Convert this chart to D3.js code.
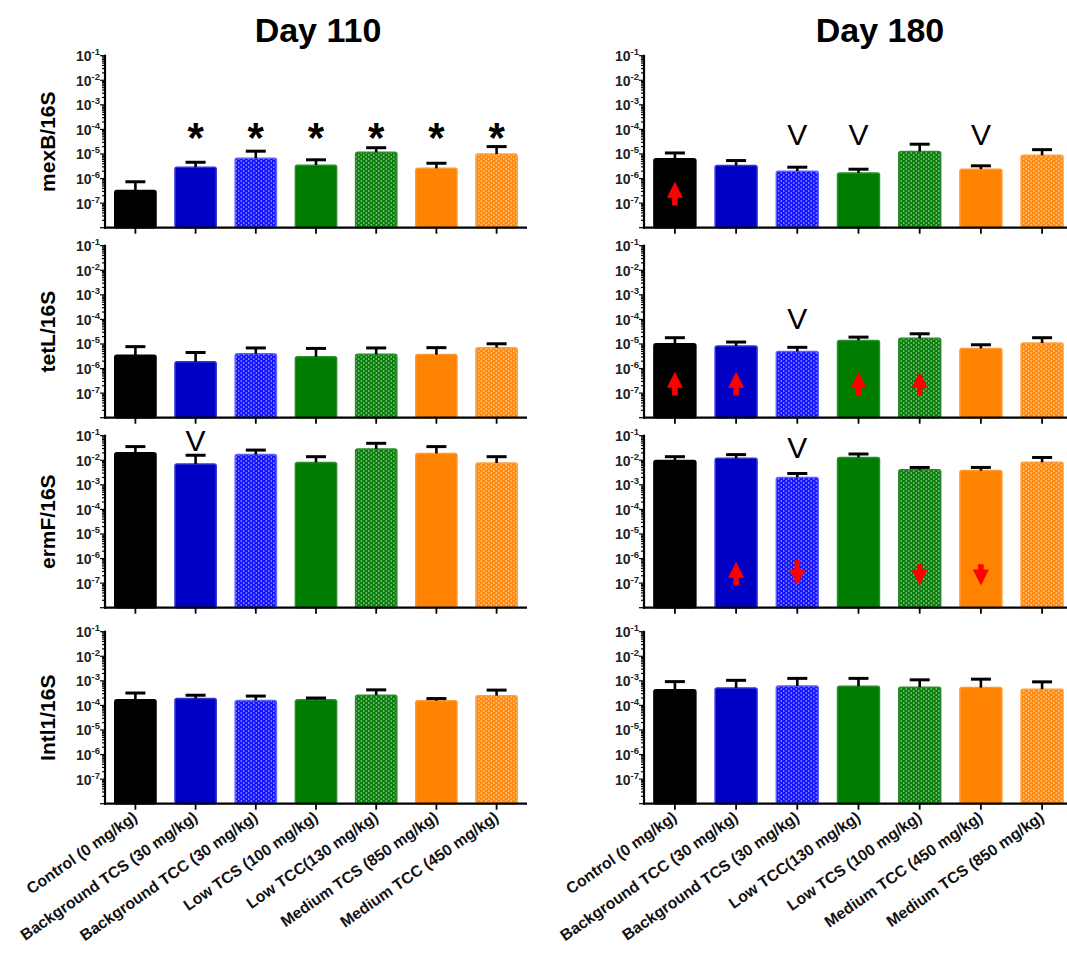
<!DOCTYPE html>
<html>
<head>
<meta charset="utf-8">
<script src="https://cdn.jsdelivr.net/npm/d3@7"></script>
<style>
  html, body { margin: 0; padding: 0; background: #fff; }
  svg { display: block; font-family: Arial, "Liberation Sans", sans-serif; }
</style>
</head>
<body>
<svg id="chart" width="1067" height="953"></svg>
<script>
// ---------------- DATA ----------------
const categoriesD110 = ["Control (0 mg/kg)", "Background TCS (30 mg/kg)", "Background TCC (30 mg/kg)",
  "Low TCS (100 mg/kg)", "Low TCC(130 mg/kg)", "Medium TCS (850 mg/kg)", "Medium TCC (450 mg/kg)"];
const categoriesD180 = ["Control (0 mg/kg)", "Background TCC (30 mg/kg)", "Background TCS (30 mg/kg)",
  "Low TCC(130 mg/kg)", "Low TCS (100 mg/kg)", "Medium TCC (450 mg/kg)", "Medium TCS (850 mg/kg)"];
const genes = ["mexB/16S", "tetL/16S", "ermF/16S", "Intl1/16S"];
const days = ["Day 110", "Day 180"];
const yTickExponents = [-1, -2, -3, -4, -5, -6, -7];

// means and upper error-bar ends, day 110
const mexB_d110     = [3.3e-7, 2.9e-6, 6.7e-6, 3.5e-6, 1.17e-5, 2.6e-6, 1.0e-5];
const mexB_d110_err = [7.4e-7, 4.6e-6, 1.3e-5, 5.8e-6, 1.8e-5, 4.2e-6, 2.0e-5];
const tetL_d110     = [3.5e-6, 1.9e-6, 4.0e-6, 3.0e-6, 3.8e-6, 3.7e-6, 7.1e-6];
const tetL_d110_err = [7.8e-6, 4.5e-6, 6.9e-6, 6.6e-6, 6.9e-6, 7.1e-6, 1.02e-5];
const ermF_d110     = [2.0e-2, 7.0e-3, 1.7e-2, 8.1e-3, 2.9e-2, 1.9e-2, 7.7e-3];
const ermF_d110_err = [3.6e-2, 1.6e-2, 2.6e-2, 1.4e-2, 4.9e-2, 3.6e-2, 1.4e-2];
const intl1_d110     = [1.7e-4, 1.9e-4, 1.6e-4, 1.7e-4, 2.6e-4, 1.55e-4, 2.5e-4];
const intl1_d110_err = [3.2e-4, 2.6e-4, 2.4e-4, 2.0e-4, 4.3e-4, 1.9e-4, 4.2e-4];
// day 180
const mexB_d180     = [6.4e-6, 3.4e-6, 2.0e-6, 1.7e-6, 1.27e-5, 2.4e-6, 8.9e-6];
const mexB_d180_err = [1.1e-5, 5.4e-6, 2.9e-6, 2.4e-6, 2.5e-5, 3.3e-6, 1.5e-5];
const tetL_d180     = [1.03e-5, 8.3e-6, 4.9e-6, 1.4e-5, 1.7e-5, 6.6e-6, 1.1e-5];
const tetL_d180_err = [1.8e-5, 1.2e-5, 7.3e-6, 1.9e-5, 2.6e-5, 9.3e-6, 1.8e-5];
const ermF_d180     = [9.8e-3, 1.2e-2, 2.0e-3, 1.3e-2, 4.1e-3, 3.8e-3, 8.3e-3];
const ermF_d180_err = [1.4e-2, 1.7e-2, 2.9e-3, 1.8e-2, 5.1e-3, 5.1e-3, 1.3e-2];
const intl1_d180     = [4.3e-4, 5.1e-4, 6.2e-4, 6.0e-4, 5.5e-4, 5.3e-4, 4.6e-4];
const intl1_d180_err = [9.3e-4, 1.05e-3, 1.26e-3, 1.26e-3, 1.1e-3, 1.17e-3, 9.1e-4];

// significance marks: [day index, gene index, bar index, symbol, level]
const sigMarks = [
  [0, 0, 1, "*", 1e-4], [0, 0, 2, "*", 1e-4], [0, 0, 3, "*", 1e-4],
  [0, 0, 4, "*", 1e-4], [0, 0, 5, "*", 1e-4], [0, 0, 6, "*", 1e-4],
  [0, 2, 1, "V", 6.7e-2],
  [1, 0, 2, "V", 6.6e-5], [1, 0, 3, "V", 6.6e-5], [1, 0, 5, "V", 6.6e-5],
  [1, 1, 2, "V", 1.15e-4],
  [1, 2, 2, "V", 3.5e-2]
];
// red arrows: [day index, gene index, bar index, tail value, head value]
const redArrows = [
  [1, 0, 0, 8e-8, 7.5e-7],
  [1, 1, 0, 8e-8, 7.5e-7], [1, 1, 1, 8e-8, 7.5e-7], [1, 1, 3, 8e-8, 7.5e-7], [1, 1, 4, 8e-8, 7.5e-7],
  [1, 2, 1, 8e-8, 7.5e-7], [1, 2, 2, 9e-7, 8e-8], [1, 2, 4, 5.8e-7, 8e-8], [1, 2, 5, 5.8e-7, 8e-8]
];

const seriesD110 = [[mexB_d110, mexB_d110_err], [tetL_d110, tetL_d110_err], [ermF_d110, ermF_d110_err], [intl1_d110, intl1_d110_err]];
const seriesD180 = [[mexB_d180, mexB_d180_err], [tetL_d180, tetL_d180_err], [ermF_d180, ermF_d180_err], [intl1_d180, intl1_d180_err]];
const allSeries = [seriesD110, seriesD180];
const allCategories = [categoriesD110, categoriesD180];

// ---------------- STYLE / LAYOUT ----------------
const barStyles = [
  { base: "#000000", stroke: "#000000", pat: false },
  { base: "#0000c4", stroke: "#3333d6", pat: false },
  { base: "#1414ff", stroke: "#6060ff", pat: true },
  { base: "#007c00", stroke: "#2a8f2a", pat: false },
  { base: "#0b7f0b", stroke: "#2a8f2a", pat: true },
  { base: "#ff8200", stroke: "#ff9a33", pat: false },
  { base: "#ff8a10", stroke: "#ffa040", pat: true }
];
const panelX = [[105, 527], [644, 1073]];
const rowTop = [55.7, 245.7, 435.7, 631.7];
const rowH = 172;

const svg = d3.select("#chart");
const defs = svg.append("defs");
barStyles.forEach((s, i) => {
  if (!s.pat) return;
  const p = defs.append("pattern").attr("id", "pat" + i)
    .attr("patternUnits", "userSpaceOnUse").attr("width", 5).attr("height", 4);
  p.append("rect").attr("width", 5).attr("height", 4).attr("fill", s.base);
  p.append("circle").attr("cx", 1.25).attr("cy", 1).attr("r", 0.75).attr("fill", "#fff").attr("opacity", 0.75);
  p.append("circle").attr("cx", 3.75).attr("cy", 3).attr("r", 0.75).attr("fill", "#fff").attr("opacity", 0.75);
});

// titles
const titleX = [318, 880];
days.forEach((d, di) => {
  svg.append("text").attr("x", titleX[di])
    .attr("y", 42).attr("text-anchor", "middle")
    .attr("font-size", 34).attr("font-weight", "bold").text(d);
});

// gene titles
genes.forEach((g, gi) => {
  const cy = rowTop[gi] + rowH / 2;
  svg.append("text").attr("transform", `translate(55,${cy}) rotate(-90)`)
    .attr("text-anchor", "middle").attr("font-size", 21).attr("font-weight", "bold").text(g);
});

for (let di = 0; di < 2; di++) {
  const x = d3.scaleBand().domain(d3.range(7)).range(panelX[di]).paddingInner(0.29).paddingOuter(0.15);
  for (let gi = 0; gi < 4; gi++) {
    const y0 = rowTop[gi], y1 = rowTop[gi] + rowH;
    const y = d3.scaleLog().domain([1e-8, 1e-1]).range([y1, y0]);
    const [means, errs] = allSeries[di][gi];
    const g = svg.append("g");

    // bars
    g.selectAll("rect.bar").data(means).join("rect").attr("class", "bar")
      .attr("x", (d, i) => x(i) + 0.75).attr("width", x.bandwidth() - 1.5)
      .attr("y", d => y(d)).attr("height", d => y1 - y(d))
      .attr("rx", 2)
      .attr("fill", (d, i) => barStyles[i].pat ? `url(#pat${i})` : barStyles[i].base)
      .attr("stroke", (d, i) => barStyles[i].stroke).attr("stroke-width", 1.5);

    // error bars
    const cap = 10;
    g.selectAll("line.err").data(means).join("line").attr("class", "err")
      .attr("x1", (d, i) => x(i) + x.bandwidth() / 2).attr("x2", (d, i) => x(i) + x.bandwidth() / 2)
      .attr("y1", d => y(d)).attr("y2", (d, i) => y(errs[i]))
      .attr("stroke", "#000").attr("stroke-width", 2.6);
    g.selectAll("line.cap").data(errs).join("line").attr("class", "cap")
      .attr("x1", (d, i) => x(i) + x.bandwidth() / 2 - cap).attr("x2", (d, i) => x(i) + x.bandwidth() / 2 + cap)
      .attr("y1", d => y(d)).attr("y2", d => y(d))
      .attr("stroke", "#000").attr("stroke-width", 3);

    // y axis
    const ax = panelX[di][0];
    g.append("line").attr("x1", ax).attr("x2", ax).attr("y1", y0 - 1).attr("y2", y1 + 1)
      .attr("stroke", "#000").attr("stroke-width", 2.2);
    const minor = [];
    for (let e = -8; e < -1; e++) for (let m = 1; m <= 9; m++) minor.push(m * Math.pow(10, e));
    minor.push(1e-1);
    g.selectAll("line.tk").data(minor).join("line").attr("class", "tk")
      .attr("x1", d => ax - (Math.abs(Math.log10(d) - Math.round(Math.log10(d))) < 1e-9 ? 5 : 3))
      .attr("x2", ax).attr("y1", d => y(d)).attr("y2", d => y(d))
      .attr("stroke", "#000").attr("stroke-width", 1.2);
    const tl = g.selectAll("text.yt").data(yTickExponents).join("text").attr("class", "yt")
      .attr("x", ax - 5).attr("y", e => y(Math.pow(10, e)) + 5.5)
      .attr("text-anchor", "end").attr("font-size", 14).attr("font-weight", "bold").attr("fill", "#222");
    tl.append("tspan").text("10");
    tl.append("tspan").attr("dy", -6).attr("font-size", 9.5).text(e => String(e));

    // x axis
    g.append("line").attr("x1", ax - 1).attr("x2", panelX[di][1]).attr("y1", y1).attr("y2", y1)
      .attr("stroke", "#000").attr("stroke-width", 2.2);
    g.selectAll("line.xt").data(d3.range(7)).join("line").attr("class", "xt")
      .attr("x1", i => x(i) + x.bandwidth() / 2).attr("x2", i => x(i) + x.bandwidth() / 2)
      .attr("y1", y1).attr("y2", y1 + 6).attr("stroke", "#000").attr("stroke-width", 1.8);

    // category labels on bottom row
    if (gi === 3) {
      g.selectAll("text.xl").data(allCategories[di]).join("text").attr("class", "xl")
        .attr("transform", (d, i) => `translate(${x(i) + x.bandwidth() / 2 + 3},${y1 + 16}) rotate(-35)`)
        .attr("text-anchor", "end").attr("font-size", 15.8).attr("font-weight", "bold").attr("fill", "#111")
        .text(d => d);
    }

    // significance marks
    sigMarks.filter(m => m[0] === di && m[1] === gi).forEach(m => {
      const cx = x(m[2]) + x.bandwidth() / 2;
      const cy = y(m[4]);
      if (m[3] === "*") {
        g.append("text").attr("x", cx).attr("y", cy + 23).attr("text-anchor", "middle")
          .attr("font-size", 42).attr("font-weight", "bold").text("*");
      } else {
        g.append("text").attr("x", cx).attr("y", cy + 11).attr("text-anchor", "middle")
          .attr("font-size", 30).text("V");
      }
    });

    // red arrows
    redArrows.filter(a => a[0] === di && a[1] === gi).forEach(a => {
      const cx = x(a[2]) + x.bandwidth() / 2;
      const yt = y(a[3]), yh = y(a[4]);
      const dir = yh < yt ? -1 : 1;
      const headLen = 16, hw = 8, sw = 2.8;
      const yb = yh - dir * headLen;
      const pts = [[cx - sw, yt], [cx - sw, yb], [cx - hw, yb], [cx, yh], [cx + hw, yb], [cx + sw, yb], [cx + sw, yt]];
      g.append("polygon").attr("points", pts.map(p => p.join(",")).join(" ")).attr("fill", "#ff0000");
    });
  }
}
</script>
</body>
</html>
